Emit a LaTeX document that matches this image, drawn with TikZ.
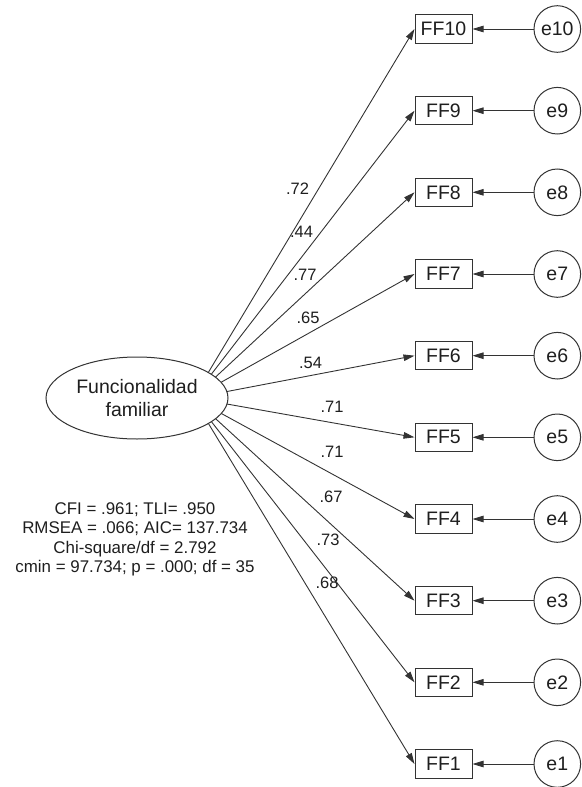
\documentclass[tikz,border=0pt]{standalone}
\usepackage{fontspec}
\setmainfont{Liberation Sans}
\usetikzlibrary{arrows.meta,shapes.geometric,backgrounds}
\definecolor{ink}{HTML}{1E1E1E}
\definecolor{edge}{HTML}{333333}
\tikzset{
  obsvar/.style={draw=edge,line width=1pt,rectangle,minimum width=57pt,minimum height=28.5pt,inner sep=0pt,text=ink,font=\fontsize{19.5}{23}\selectfont},
  errvar/.style={draw=edge,line width=1pt,circle,minimum size=46.6pt,inner sep=0pt,text=ink,font=\fontsize{19.5}{23}\selectfont},
  latvar/.style={draw=edge,line width=1pt,ellipse,minimum width=182pt,minimum height=82pt,inner sep=0pt,fill=white,align=center,text=ink,font=\fontsize{19.5}{23}\selectfont},
  coef/.style={text=ink,inner sep=0pt,font=\fontsize{16.5}{19}\selectfont},
  stats/.style={text=ink,align=center,inner sep=0pt,font=\fontsize{16.9}{19.4}\selectfont},
  path/.style={draw=edge,line width=0.9pt,-{Triangle[length=11pt,width=6.5pt]}}
}
\begin{document}
\begin{tikzpicture}[x=1pt,y=-1pt]
\useasboundingbox (0,0) rectangle (581,787);
% observed variables
\foreach \i/\yy in {10/29,9/110.7,8/192.3,7/274,6/355.7,5/437.3,4/519,3/600.7,2/682.3,1/764}{
  \node[obsvar] (ff\i) at (443.5,\yy) {FF\i};
  \node[errvar] (e\i) at (557.3,\yy) {e\i};
  \draw[path] (e\i) -- (ff\i);
}
% latent variable
\node[latvar] (lat) at (137,398) {Funcionalidad\\familiar};
\coordinate (src) at (193,398);
\begin{pgfonlayer}{background}
\foreach \i in {1,...,10}{
  \draw[path] (src) -- (ff\i.west);
}
\end{pgfonlayer}
% loadings
\node[coef] (c10) at (297.5,189) {.72};
\node[coef] (c9) at (301.5,232) {.44};
\node[coef] (c8) at (305,275) {.77};
\node[coef] (c7) at (308,318) {.65};
\node[coef] (c6) at (310.5,363) {.54};
\node[coef] (c5) at (332,407) {.71};
\node[coef] (c4) at (332,452) {.71};
\node[coef] (c3) at (331,497) {.67};
\node[coef] (c2) at (328,540) {.73};
\node[coef] (c1) at (327,583) {.68};
% fit statistics
\node[stats] (fit) at (135,539.5) {CFI = .961; TLI= .950\\RMSEA = .066; AIC= 137.734\\Chi-square/df = 2.792\\cmin = 97.734; p = .000; df = 35};
\end{tikzpicture}
\end{document}
